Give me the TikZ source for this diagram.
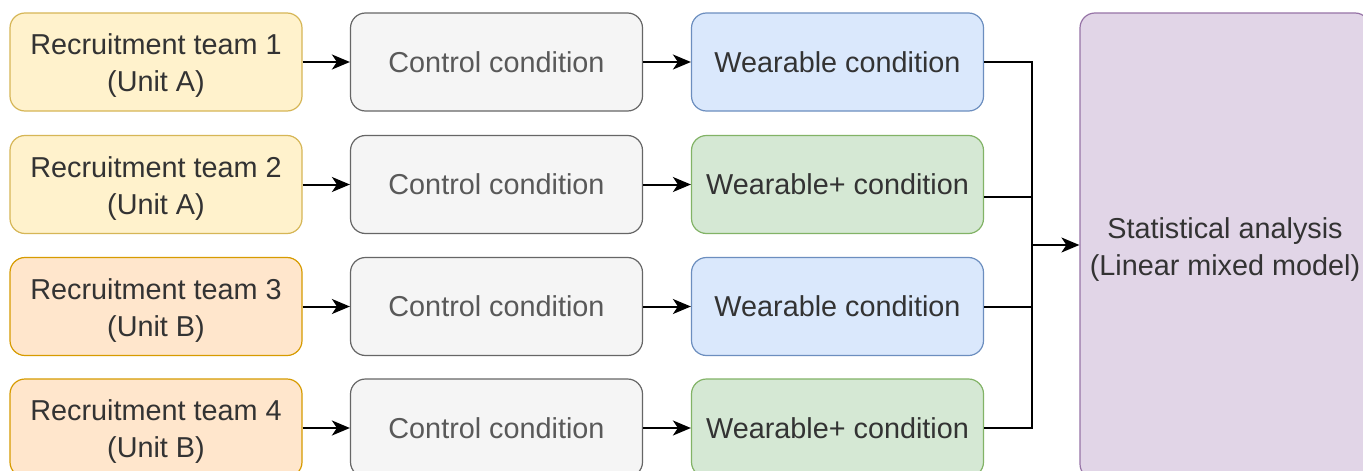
\documentclass[tikz,border=0pt]{standalone}
\usepackage{fontspec}
\setmainfont{Liberation Sans}
\usetikzlibrary{arrows.meta}
\definecolor{yfill}{HTML}{FFF2CC}\definecolor{ydraw}{HTML}{D6B656}
\definecolor{ofill}{HTML}{FFE6CC}\definecolor{odraw}{HTML}{D79B00}
\definecolor{gfill}{HTML}{F5F5F5}\definecolor{gdraw}{HTML}{666666}
\definecolor{bfill}{HTML}{DAE8FC}\definecolor{bdraw}{HTML}{6C8EBF}
\definecolor{nfill}{HTML}{D5E8D4}\definecolor{ndraw}{HTML}{82B366}
\definecolor{pfill}{HTML}{E1D5E7}\definecolor{pdraw}{HTML}{9673A6}
\definecolor{txt}{HTML}{333333}
\newcommand\twolines[2]{\raisebox{-4pt}[\height][\depth]{\begin{tabular}{@{}c@{}}#1\\#2\end{tabular}}}
\tikzset{
  box/.style={rounded corners=15pt, line width=1.2pt, minimum width=292pt, minimum height=98pt,
    align=center, inner sep=0pt, font=\fontsize{28.8}{37}\selectfont, text=txt},
  ybox/.style={box, fill=yfill, draw=ydraw},
  obox/.style={box, fill=ofill, draw=odraw},
  gbox/.style={box, fill=gfill, draw=gdraw, text=black!65},
  bbox/.style={box, fill=bfill, draw=bdraw},
  nbox/.style={box, fill=nfill, draw=ndraw},
  pbox/.style={box, fill=pfill, draw=pdraw, minimum width=290pt, minimum height=466pt},
  arr/.style={line width=2pt, -{Stealth[length=18pt,width=15pt,inset=5pt]}},
  ln/.style={line width=2pt},
}
\begin{document}
\begin{tikzpicture}[x=1pt,y=-1pt]
\fill[white] (0,0) rectangle (1363,471);
\useasboundingbox (0,0) rectangle (1363,471);
% left column
\node[ybox] (r1) at (156,62) {\twolines{Recruitment team 1}{(Unit A)}};
\node[ybox] (r2) at (156,184.5) {\twolines{Recruitment team 2}{(Unit A)}};
\node[obox] (r3) at (156,306.5) {\twolines{Recruitment team 3}{(Unit B)}};
\node[obox] (r4) at (156,428) {\twolines{Recruitment team 4}{(Unit B)}};
% control
\node[gbox] (c1) at (496.5,62) {Control condition};
\node[gbox] (c2) at (496.5,184.5) {Control condition};
\node[gbox] (c3) at (496.5,306.5) {Control condition};
\node[gbox] (c4) at (496.5,428) {Control condition};
% wearable
\node[bbox] (w1) at (837.5,62) {Wearable condition};
\node[nbox] (w2) at (837.5,184.5) {Wearable+ condition};
\node[bbox] (w3) at (837.5,306.5) {Wearable condition};
\node[nbox] (w4) at (837.5,428) {Wearable+ condition};
% statistical
\node[pbox] (s) at (1225,246) {\twolines{Statistical analysis}{(Linear mixed model)}};
\foreach \i in {1,2,3,4}{
  \draw[arr] (r\i) -- (c\i);
  \draw[arr] (c\i) -- (w\i);
}
\coordinate (j) at (1032,245);
\draw[ln] (w1.east) -| (j);
\draw[ln] ([yshift=-12.5pt]w2.east) -| (j);
\draw[ln] (w3.east) -| (j);
\draw[ln] (w4.east) -| (j);
\draw[arr] (j) -- (s.west |- j);
\end{tikzpicture}
\end{document}
